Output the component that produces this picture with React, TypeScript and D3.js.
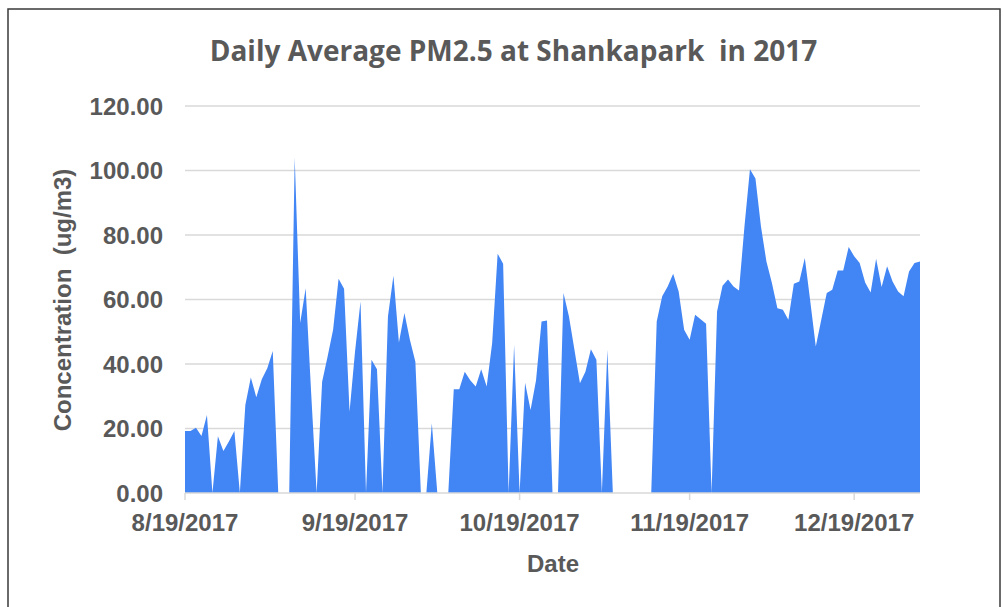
import React from "react";
import * as d3 from "d3";

// Daily average PM2.5 (ug/m3); null = no data (plotted as zero, like the source)
const augValues: (number | null)[] = [19.2, 19.2, 20.2, 17.7, 24.2, null, 17.6, 13, 16, 19.2, null, 27.3, 35.8];
const sepValues: (number | null)[] = [29.7, 35.3, 38.7, 44, null, null, null, 104, 52.7, 63.5, 31, null, 34.5, 42.3, 50.6, 66.4, 63.3, 25.2, 43.9, 59.4, null, 41.3, 38.4, null, 54.7, 67.4, 46.7, 55.8, 47.5, 40.7];
const octValues: (number | null)[] = [null, null, 21.6, null, null, null, 32.2, 32.2, 37.6, 35, 33, 38.4, 33, 46.5, 74.2, 71.1, null, 45.9, null, 34.2, 25.7, 35, 53.2, 53.5, null, null, 62, 54.7, 44.4, 34, 37.6];
const novValues: (number | null)[] = [44.6, 41.3, null, 44.4, null, null, null, null, null, null, null, null, 53.2, 61, 64, 68, 62.5, 50.6, 47.5, 55.3, 53.9, 52.5, null, 56.3, 64.3, 66.2, 64, 62.8, 82.7, 100.4];
const decValues: (number | null)[] = [97.5, 82.7, 71.8, 65.1, 57.3, 56.8, 53.7, 64.9, 65.6, 72.9, 59.4, 45.4, 53.7, 62, 63, 69, 69, 76.3, 73.4, 71.3, 65.3, 62.2, 72.6, 63.9, 70.3, 65.6, 62.5, 61, 68.7, 71.3, 71.8];

const monthStarts = ["2017-08-19", "2017-09-01", "2017-10-01", "2017-11-01", "2017-12-01"];
const monthSeries = [augValues, sepValues, octValues, novValues, decValues];

const xTickDates = ["2017-08-19", "2017-09-19", "2017-10-19", "2017-11-19", "2017-12-19"];
const xTickLabels = ["8/19/2017", "9/19/2017", "10/19/2017", "11/19/2017", "12/19/2017"];
const yTicks = [0, 20, 40, 60, 80, 100, 120];

const title = "Daily Average PM2.5 at Shankapark  in 2017";
const yTitle = "Concentration  (ug/m3)";
const xTitle = "Date";

const parse = d3.timeParse("%Y-%m-%d");

type Pt = { date: Date; value: number | null };
const data: Pt[] = [];
monthSeries.forEach((vals, i) => {
  const start = parse(monthStarts[i]) as Date;
  vals.forEach((v, j) => {
    data.push({ date: d3.timeDay.offset(start, j), value: v });
  });
});

export default function App() {
  const W = 1004;
  const H = 607;
  const left = 185;
  const right = 920;
  const top = 106;
  const bottom = 493;

  const x = d3
    .scaleTime()
    .domain([parse("2017-08-19") as Date, parse("2017-12-31") as Date])
    .range([left, right]);
  const y = d3.scaleLinear().domain([0, 120]).range([bottom, top]);

  const area = d3
    .area<Pt>()
    .x((d) => x(d.date))
    .y0(y(0))
    .y1((d) => y(d.value ?? 0));

  const grey = "#595959";
  const tickFont = "'Liberation Sans', Arial, sans-serif";

  return (
    <svg
      width={W}
      height={H}
      style={{ position: "absolute", left: 0, top: 0, background: "#fff" }}
    >
      <rect x={0} y={0} width={W} height={H} fill="#fff" />
      <rect x={8} y={9} width={992} height={640} fill="#fff" stroke="#3a3a3a" strokeWidth={1.5} />

      <text
        x={513.5}
        y={61}
        textAnchor="middle"
        fontFamily="'Open Sans', sans-serif"
        fontWeight={700}
        fontSize={28}
        fill={grey}
        style={{ whiteSpace: "pre" }}
      >
        {title}
      </text>

      {yTicks.map((t) => (
        <g key={t}>
          {t > 0 && (
            <line x1={left} x2={right} y1={y(t)} y2={y(t)} stroke="#d9d9d9" strokeWidth={1.5} />
          )}
          <text
            x={163}
            y={y(t) + 8.5}
            textAnchor="end"
            fontFamily={tickFont}
            fontWeight={700}
            fontSize={24}
            fill={grey}
          >
            {t.toFixed(2)}
          </text>
        </g>
      ))}

      <path d={area(data) ?? ""} fill="#4285f4" />

      <line x1={left} x2={right} y1={bottom} y2={bottom} stroke="#d9d9d9" strokeWidth={1.5} />
      {xTickDates.map((ds, i) => {
        const xx = x(parse(ds) as Date);
        return (
          <g key={ds}>
            <line x1={xx} x2={xx} y1={bottom} y2={bottom + 7} stroke="#d9d9d9" strokeWidth={1.5} />
            <text
              x={xx}
              y={531}
              textAnchor="middle"
              fontFamily={tickFont}
              fontWeight={700}
              fontSize={24}
              fill={grey}
            >
              {xTickLabels[i]}
            </text>
          </g>
        );
      })}

      <text
        x={553}
        y={572}
        textAnchor="middle"
        fontFamily={tickFont}
        fontWeight={700}
        fontSize={24}
        fill={grey}
      >
        {xTitle}
      </text>

      <text
        transform={`translate(71, 300) rotate(-90)`}
        textAnchor="middle"
        fontFamily={tickFont}
        fontWeight={700}
        fontSize={24}
        fill={grey}
        style={{ whiteSpace: "pre" }}
      >
        {yTitle}
      </text>
    </svg>
  );
}
